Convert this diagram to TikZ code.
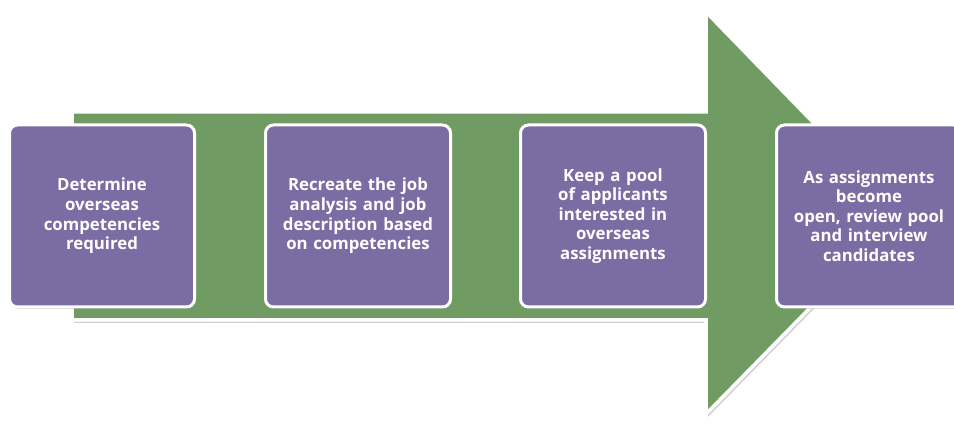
\documentclass[tikz,border=0pt]{standalone}
\usepackage{fontspec}
\setmainfont{Open Sans}
\usetikzlibrary{shadows}
\definecolor{arrowgreen}{RGB}{112,156,100}
\definecolor{boxpurple}{RGB}{123,108,163}
\tikzset{
  stepbox/.style={draw=white, line width=3pt, fill=boxpurple, rounded corners=8pt,
    minimum width=185pt, minimum height=182pt, text width=175pt, align=center,
    text=white, font=\bfseries\fontsize{16.8}{19.6}\selectfont, inner sep=0pt,
    drop shadow={opacity=0.35, shadow xshift=1.5pt, shadow yshift=-2pt}},
}
\begin{document}
\begin{tikzpicture}[x=1pt,y=-1pt]
\useasboundingbox (0,0) rectangle (954,427);
\begin{scope}
\clip (0,0) rectangle (954,427);
% big arrow
\filldraw[draw=white, line width=3.5pt, fill=arrowgreen, line join=miter,
  drop shadow={opacity=0.35, shadow xshift=2pt, shadow yshift=-3pt}]
  (72,112) -- (706,112) -- (706,12) -- (902,214) -- (706,414) -- (706,320) -- (72,320) -- cycle;
\node[stepbox] (s1) at (102,216) {Determine\\overseas\\competencies\\required};
\node[stepbox] (s2) at (358,216) {Recreate the job\\analysis and job\\description based\\on competencies};
\node[stepbox] (s3) at (613,216) {Keep a pool\\of applicants\\interested in\\overseas\\assignments};
\node[stepbox] (s4) at (869,216) {As assignments\\become\\open, review pool\\and interview\\candidates};
\end{scope}
\end{tikzpicture}
\end{document}
